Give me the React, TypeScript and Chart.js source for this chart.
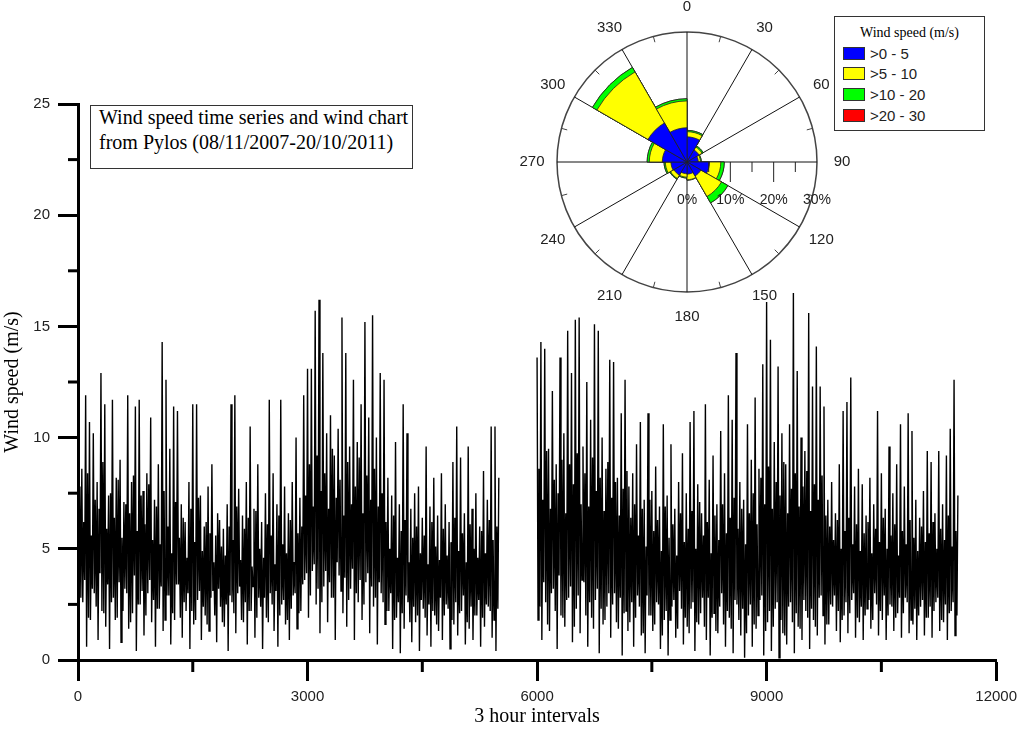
import React, { useEffect, useRef } from "react";
import { Chart, registerables } from "chart.js";

Chart.register(...registerables);

// ---------------- Time series (3 hour intervals) ----------------
const SAMPLE_STEP = 12.5; // intervals between successive readings
const SEG1_START = 0;
const GAP_AT = 5750;
const SEG2_START = 6000;

const seg1Peaks = [
  10.2, 8.6, 11.9, 10.7, 10.2, 8.0, 12.9, 11.5, 7.4, 11.7,
  8.2, 9.0, 7.1, 11.9, 8.0, 11.4, 11.7, 7.6, 8.4, 10.9,
  7.2, 8.8, 14.3, 12.6, 9.5, 11.4, 11.2, 7.0, 6.2, 8.0,
  11.5, 11.5, 7.4, 6.0, 7.8, 8.8, 5.6, 6.3, 5.9, 7.0,
  11.5, 11.9, 7.7, 6.5, 8.0, 10.5, 6.8, 8.8, 6.2, 7.5,
  11.7, 8.4, 7.0, 11.7, 7.8, 6.6, 8.0, 10.0, 7.3, 11.9,
  13.1, 13.1, 15.7, 16.2, 13.8, 10.2, 11.0, 9.2, 10.4, 15.4,
  13.8, 9.6, 12.6, 9.8, 11.5, 15.2, 10.9, 15.5, 10.0, 12.9,
  12.6, 8.2, 7.4, 9.8, 7.0, 11.5, 10.2, 6.8, 7.5, 7.8,
  6.4, 9.6, 6.9, 8.2, 6.5, 8.4, 7.0, 6.2, 8.9, 10.5,
  9.1, 6.6, 9.6, 6.8, 7.5, 6.0, 8.5, 7.2, 10.5, 10.5,
  8.2,
];
const seg1Troughs = [
  1.2, 2.6, 0.6, 1.8, 3.0, 0.9, 2.2, 1.5, 0.5, 2.8,
  1.9, 0.8, 3.2, 1.4, 2.1, 0.4, 2.5, 1.1, 3.0, 1.7,
  0.6, 2.3, 1.3, 2.9, 0.7, 1.8, 3.4, 1.0, 2.2, 0.5,
  1.6, 2.7, 0.9, 2.0, 1.3, 3.1, 0.8, 2.4, 1.5, 0.4,
  2.6, 1.2, 3.3, 1.7, 0.7, 2.2, 1.0, 2.8, 0.5, 1.9,
  3.0, 1.3, 0.6, 2.5, 1.6, 0.9, 2.9, 1.4, 2.2, 3.6,
  1.9, 4.0, 2.5, 1.2, 3.3, 1.7, 2.8, 0.9, 3.8, 2.1,
  1.5, 3.2, 0.9, 2.6, 1.8, 3.5, 1.2, 2.4, 0.7, 3.0,
  1.6, 2.2, 0.5, 1.9, 0.3, 1.4, 2.6, 0.8, 1.7, 0.4,
  2.3, 1.1, 0.6, 2.0, 1.3, 0.9, 2.5, 0.5, 1.6, 1.1,
  2.2, 0.7, 1.4, 0.9, 2.0, 0.6, 1.5, 2.4, 1.0, 0.4,
];
const seg1InnerPeaks = [
  7.8, 6.2, 8.4, 5.6, 7.2, 6.8, 8.9, 5.9, 7.5, 6.4,
  8.1, 5.5, 7.0, 6.6, 8.3, 5.8, 7.4, 6.1, 7.9, 5.4,
  6.9, 5.2, 7.6, 6.0, 4.8, 7.1, 5.5, 6.4, 4.6, 6.8,
  5.3, 7.3, 4.9, 6.2, 5.7, 4.4, 6.6, 5.1, 4.7, 6.0,
  5.4, 6.9, 4.5, 5.9, 6.4, 4.2, 6.7, 5.0, 4.6, 6.1,
  5.6, 4.3, 6.5, 5.2, 4.8, 6.3, 4.4, 5.7, 6.0, 7.4,
  8.8, 6.9, 9.2, 7.6, 8.4, 6.8, 9.5, 7.3, 8.1, 6.5,
  8.9, 7.0, 7.8, 9.1, 6.6, 8.3, 7.2, 8.6, 6.9, 7.5,
  6.2, 5.0, 6.5, 4.6, 5.8, 6.3, 4.4, 5.5, 6.0, 4.8,
  5.6, 4.3, 6.2, 5.1, 4.5, 5.9, 4.7, 5.3, 6.4, 4.9,
  5.7, 4.4, 6.1, 5.0, 4.6, 5.8, 4.8, 6.3, 5.4, 6.0,
];
const seg1InnerTroughs = [
  2.8, 3.6, 1.9, 3.2, 2.4, 3.9, 2.1, 3.4, 2.6, 1.8,
  3.5, 2.2, 3.0, 1.7, 3.8, 2.5, 3.1, 2.0, 3.6, 2.7,
  2.3, 3.3, 1.8, 2.9, 2.1, 3.4, 1.9, 2.6, 3.0, 2.2,
  1.8, 3.1, 2.4, 1.6, 2.8, 2.0, 3.2, 1.7, 2.5, 2.9,
  2.1, 3.0, 1.8, 2.6, 2.2, 3.3, 1.9, 2.4, 2.8, 1.7,
  2.5, 3.1, 2.0, 2.7, 1.8, 2.3, 3.0, 2.1, 3.4, 3.9,
  2.9, 4.3, 3.2, 2.6, 4.0, 3.5, 2.8, 4.4, 3.1, 3.7,
  2.7, 4.1, 3.0, 3.6, 2.5, 3.9, 3.3, 2.8, 3.5, 2.6,
  2.2, 3.0, 1.8, 2.6, 2.1, 2.9, 1.7, 2.4, 2.0, 2.7,
  1.9, 2.5, 2.2, 1.6, 2.8, 2.0, 2.3, 1.8, 2.6, 2.1,
  2.9, 1.7, 2.4, 2.0, 2.7, 1.9, 2.5, 2.2, 1.8, 2.3,
];
const seg2Peaks = [
  13.6, 14.3, 14.0, 9.5, 12.1, 8.8, 13.6, 10.2, 14.8, 12.9,
  15.3, 15.4, 9.6, 12.5, 10.8, 15.1, 14.8, 10.0, 8.6, 13.5,
  13.4, 8.2, 11.1, 12.6, 7.8, 8.4, 9.7, 10.7, 7.2, 11.1,
  7.6, 8.7, 6.9, 10.6, 7.4, 9.7, 6.8, 8.0, 9.3, 7.5,
  10.7, 11.2, 7.9, 6.6, 11.5, 8.1, 9.2, 7.0, 10.3, 8.4,
  11.9, 10.8, 13.8, 8.0, 7.2, 10.6, 9.0, 11.8, 8.6, 13.3,
  16.1, 14.4, 9.8, 13.2, 10.2, 8.8, 10.6, 16.5, 13.0, 10.0,
  9.4, 15.6, 12.3, 14.1, 12.3, 11.4, 7.2, 8.0, 6.6, 8.8,
  11.2, 11.6, 12.7, 7.8, 8.6, 7.9, 6.5, 8.2, 7.0, 11.2,
  8.4, 6.8, 9.6, 7.5, 8.8, 10.6, 7.8, 11.1, 10.3, 7.2,
  6.4, 7.6, 9.4, 8.9, 6.6, 9.4, 7.0, 9.2, 10.4, 12.6,
  7.4,
];
const seg2Troughs = [
  1.8, 0.9, 2.6, 1.3, 3.2, 0.5, 2.0, 1.5, 2.8, 0.8,
  2.3, 1.2, 3.5, 0.6, 1.9, 2.7, 0.3, 1.6, 2.4, 1.0,
  3.0, 1.4, 0.2, 2.2, 1.7, 0.6, 2.9, 1.1, 0.3, 2.0,
  1.3, 2.6, 0.5, 1.8, 0.2, 2.4, 1.0, 3.1, 0.7, 1.5,
  2.3, 0.4, 1.6, 2.8, 0.9, 0.2, 2.1, 1.2, 3.0, 0.6,
  1.9, 0.3, 2.5, 1.1, 0.1, 2.0, 0.6, 1.4, 2.7, 0.2,
  1.7, 0.4, 2.3, 0.1, 1.2, 0.7, 2.6, 0.3, 1.5, 0.9,
  2.2, 0.5, 1.8, 1.1, 2.9, 0.7, 1.6, 2.4, 1.3, 0.8,
  2.0, 1.2, 2.7, 1.0, 1.7, 0.9, 2.3, 1.4, 3.0, 1.1,
  1.8, 0.9, 2.5, 1.3, 2.1, 1.0, 2.8, 1.2, 1.6, 0.9,
  2.4, 1.1, 1.9, 1.0, 2.6, 1.3, 1.7, 0.9, 2.2, 1.1,
];
const seg2InnerPeaks = [
  8.6, 7.2, 9.4, 6.8, 8.1, 7.5, 9.0, 6.6, 8.8, 7.9,
  9.3, 7.0, 8.4, 6.9, 9.1, 7.6, 8.2, 6.7, 8.9, 7.3,
  8.0, 6.5, 7.7, 8.5, 6.4, 7.0, 5.6, 6.8, 5.1, 7.2,
  5.8, 6.3, 4.9, 6.9, 5.5, 6.1, 4.7, 6.6, 5.3, 5.9,
  6.7, 5.0, 7.1, 5.6, 6.2, 4.8, 6.5, 5.4, 7.0, 5.7,
  6.4, 7.3, 5.9, 6.8, 5.2, 6.6, 7.5, 6.1, 8.2, 7.0,
  8.7, 6.8, 8.0, 7.4, 8.9, 6.6, 7.7, 8.4, 6.9, 7.8,
  8.5, 6.7, 7.9, 7.2, 8.3, 6.5, 6.0, 5.4, 6.3, 5.0,
  5.8, 6.4, 5.2, 6.1, 4.9, 5.7, 6.2, 4.8, 5.9, 5.3,
  6.4, 5.0, 5.6, 6.1, 4.7, 5.8, 5.2, 6.3, 5.5, 4.9,
  6.0, 5.3, 5.7, 6.2, 5.0, 5.9, 5.4, 6.5, 5.1, 5.8,
];
const seg2InnerTroughs = [
  2.4, 3.5, 1.6, 3.0, 2.2, 3.8, 1.9, 2.7, 3.3, 1.5,
  2.9, 3.6, 2.0, 2.6, 1.4, 3.2, 2.3, 1.8, 3.0, 2.5,
  1.7, 2.8, 2.1, 1.3, 2.6, 1.9, 2.4, 1.2, 2.9, 2.0,
  1.6, 2.5, 1.1, 2.2, 1.8, 2.7, 1.4, 2.3, 1.9, 1.2,
  2.6, 1.7, 2.1, 1.5, 2.8, 1.9, 1.3, 2.4, 1.6, 2.2,
  1.4, 2.7, 1.8, 2.3, 1.2, 2.5, 1.6, 2.0, 2.9, 1.3,
  2.2, 1.5, 2.6, 1.8, 1.1, 2.4, 1.7, 2.1, 1.4, 2.7,
  1.9, 2.3, 1.5, 2.8, 2.0, 1.6, 2.5, 2.9, 2.2, 1.8,
  2.6, 2.1, 3.0, 1.9, 2.4, 2.0, 2.7, 1.8, 2.5, 2.2,
  2.9, 2.0, 2.4, 1.9, 2.8, 2.1, 2.6, 1.8, 2.3, 2.0,
  2.7, 1.9, 2.4, 2.2, 2.8, 1.8, 2.5, 2.1, 2.6, 2.0,
];

const X_MIN = 0;
const X_MAX = 12000;
const X_STEP = 3000;
const Y_MIN = 0;
const Y_MAX = 25;
const Y_STEP = 5;
const xMinorTicks = [1500, 4500, 7500, 10500];
const yMinorTicks = [2.5, 7.5, 12.5, 17.5, 22.5];

// ---------------- Wind rose ----------------
const directions = ["0", "30", "60", "90", "120", "150", "180", "210", "240", "270", "300", "330"];
// percentage of records per 30° sector and speed class
const band0to5 = [5.8, 3.2, 2.6, 5.2, 3.7, 2.8, 2.7, 3.5, 3.7, 5.7, 10.4, 7.9];
const band5to10 = [1.2, 0.8, 0.5, 2.6, 5.5, 1.3, 0.8, 0.9, 1.3, 3.0, 13.6, 6.2];
const band10to20 = [0.3, 0.3, 0.2, 0.8, 1.7, 0.1, 0.2, 0.2, 0.3, 0.5, 1.2, 0.5];
const band20to30 = [0, 0, 0, 0, 0, 0, 0, 0, 0, 0, 0, 0];
const speedBands = [">0 - 5", ">5 - 10", ">10 - 20", ">20 - 30"];
const bandColors = ["#0000ff", "#ffff00", "#00ff00", "#ff0000"];
const roseMax = 30;
const rosePctLabels = [0, 10, 20, 30];
const roseMajorAxisTicks = [10, 20];
const roseMinorAxisTicks = [5, 15, 25];

const SANS = '"Liberation Sans", Arial, sans-serif';
const SERIF = '"Liberation Serif", "Times New Roman", serif';

function buildSegment(start: number, peaks: number[], troughs: number[], innerPeaks: number[], innerTroughs: number[]) {
  const pts: { x: number; y: number | null }[] = [];
  peaks.forEach((p, i) => {
    const base = start + i * 4 * SAMPLE_STEP;
    pts.push({ x: base, y: p });
    if (i < troughs.length) pts.push({ x: base + SAMPLE_STEP, y: troughs[i] });
    if (i < innerPeaks.length) pts.push({ x: base + 2 * SAMPLE_STEP, y: innerPeaks[i] });
    if (i < innerTroughs.length) pts.push({ x: base + 3 * SAMPLE_STEP, y: innerTroughs[i] });
  });
  return pts;
}

function cumulative(bands: number[][]) {
  const out: number[][] = [];
  let run = bands[0].map(() => 0);
  bands.forEach((b) => {
    run = run.map((v, i) => v + b[i]);
    out.push(run.slice());
  });
  return out;
}

const minorTickPlugin = {
  id: "minorTicks",
  afterDraw(chart: any) {
    const { ctx, chartArea } = chart;
    const x = chart.scales.x;
    const y = chart.scales.y;
    ctx.save();
    ctx.strokeStyle = "#000";
    ctx.lineWidth = 3;
    xMinorTicks.forEach((v) => {
      const px = x.getPixelForValue(v);
      ctx.beginPath();
      ctx.moveTo(px, chartArea.bottom);
      ctx.lineTo(px, chartArea.bottom + 12);
      ctx.stroke();
    });
    yMinorTicks.forEach((v) => {
      const py = y.getPixelForValue(v);
      ctx.beginPath();
      ctx.moveTo(chartArea.left, py);
      ctx.lineTo(chartArea.left - 10, py);
      ctx.stroke();
    });
    ctx.restore();
  },
};

const roseDecorPlugin = {
  id: "roseDecor",
  afterDraw(chart: any) {
    const s = chart.scales.r;
    const ctx = chart.ctx;
    const R = s.drawingArea;
    const cx = s.xCenter;
    const cy = s.yCenter;
    ctx.save();
    ctx.strokeStyle = "#444";
    ctx.lineWidth = 1;
    for (let i = 0; i < directions.length; i++) {
      const a = s.getPointPosition(i + 0.5, R);
      const b = s.getPointPosition(i + 0.5, R - 6);
      ctx.beginPath();
      ctx.moveTo(a.x, a.y);
      ctx.lineTo(b.x, b.y);
      ctx.stroke();
    }
    ctx.strokeStyle = "#222";
    roseMajorAxisTicks.forEach((v) => {
      const px = cx + s.getDistanceFromCenterForValue(v);
      ctx.beginPath();
      ctx.moveTo(px, cy);
      ctx.lineTo(px, cy + 20);
      ctx.stroke();
    });
    roseMinorAxisTicks.forEach((v) => {
      const px = cx + s.getDistanceFromCenterForValue(v);
      ctx.beginPath();
      ctx.moveTo(px, cy);
      ctx.lineTo(px, cy + 10);
      ctx.stroke();
    });
    ctx.fillStyle = "#222";
    ctx.textAlign = "center";
    ctx.textBaseline = "middle";
    ctx.font = `14px ${SANS}`;
    rosePctLabels.forEach((v) => {
      const px = cx + s.getDistanceFromCenterForValue(v);
      ctx.fillText(`${v}%`, px, cy + 38);
    });
    ctx.font = `15px ${SANS}`;
    directions.forEach((lab, i) => {
      const p = s.getPointPosition(i, R + 25);
      ctx.fillText(lab, p.x, p.y);
    });
    ctx.restore();
  },
};

export default function App() {
  const mainRef = useRef<HTMLCanvasElement>(null);
  const roseRef = useRef<HTMLCanvasElement>(null);

  useEffect(() => {
    document.body.style.margin = "0";
    const series = [
      ...buildSegment(SEG1_START, seg1Peaks, seg1Troughs, seg1InnerPeaks, seg1InnerTroughs),
      { x: GAP_AT, y: null },
      ...buildSegment(SEG2_START, seg2Peaks, seg2Troughs, seg2InnerPeaks, seg2InnerTroughs),
    ];

    const main = new Chart(mainRef.current as HTMLCanvasElement, {
      type: "line",
      data: {
        datasets: [
          {
            data: series as any,
            borderColor: "#000",
            borderWidth: 1.4,
            pointRadius: 0,
            spanGaps: false,
            tension: 0,
          },
        ],
      },
      options: {
        animation: false,
        responsive: false,
        maintainAspectRatio: false,
        layout: { padding: { top: 104, right: 22, left: 0, bottom: 0 } },
        plugins: { legend: { display: false }, tooltip: { enabled: false } },
        scales: {
          x: {
            type: "linear",
            min: X_MIN,
            max: X_MAX,
            ticks: {
              stepSize: X_STEP,
              font: { family: SANS, size: 15 },
              color: "#222",
              padding: 7,
              maxRotation: 0,
              autoSkip: false,
              callback: (v: any) => String(v),
            },
            grid: { drawOnChartArea: false, tickLength: 21, tickWidth: 3, tickColor: "#000" },
            border: { color: "#000", width: 3 },
            title: {
              display: true,
              text: "3 hour intervals",
              font: { family: SERIF, size: 20 },
              color: "#000",
              padding: { top: 0, bottom: 1 },
            },
            afterFit: (s: any) => {
              s.height = 70;
            },
          },
          y: {
            type: "linear",
            min: Y_MIN,
            max: Y_MAX,
            ticks: {
              stepSize: Y_STEP,
              font: { family: SANS, size: 15 },
              color: "#222",
              padding: 8,
              callback: (v: any) => String(v),
            },
            grid: { drawOnChartArea: false, tickLength: 20, tickWidth: 3, tickColor: "#000" },
            border: { color: "#000", width: 3 },
            title: {
              display: true,
              text: "Wind speed (m/s)",
              font: { family: SERIF, size: 20 },
              color: "#000",
              padding: { top: 1, bottom: 0 },
            },
            afterFit: (s: any) => {
              s.width = 78;
            },
          },
        },
      },
      plugins: [minorTickPlugin],
    });

    const cum = cumulative([band0to5, band5to10, band10to20, band20to30]);
    const rose = new Chart(roseRef.current as HTMLCanvasElement, {
      type: "polarArea",
      data: {
        labels: directions,
        datasets: speedBands.map((lab, k) => ({
          label: lab,
          data: cum[k],
          backgroundColor: bandColors[k],
          borderColor: "#222",
          borderWidth: 0.8,
        })),
      },
      options: {
        animation: false,
        responsive: false,
        maintainAspectRatio: false,
        layout: { padding: 45 },
        plugins: { legend: { display: false }, tooltip: { enabled: false } },
        scales: {
          r: {
            min: 0,
            max: roseMax,
            startAngle: 0,
            z: 1,
            ticks: { display: false, stepSize: 5 },
            grid: {
              circular: true,
              color: (c: any) => (c.tick && c.tick.value === roseMax ? "#444" : "rgba(0,0,0,0)"),
              lineWidth: 1.5,
            },
            angleLines: { display: true, color: "#111", lineWidth: 1 },
            pointLabels: { display: false },
          },
        },
      } as any,
      plugins: [roseDecorPlugin],
    });

    return () => {
      main.destroy();
      rose.destroy();
    };
  }, []);

  return (
    <div style={{ position: "relative", width: 1024, height: 730, overflow: "hidden", background: "#fff" }}>
      <canvas ref={mainRef} width={1024} height={730} style={{ position: "absolute", left: 0, top: 0 }} />
      <canvas ref={roseRef} width={350} height={350} style={{ position: "absolute", left: 512, top: -13 }} />
      <div
        style={{
          position: "absolute",
          left: 90,
          top: 105,
          width: 323,
          height: 64,
          border: "1px solid #333",
          boxSizing: "border-box",
          background: "#fff",
        }}
      />
      <div
        style={{
          position: "absolute",
          left: 99,
          top: 105,
          fontFamily: SERIF,
          fontSize: 20,
          lineHeight: "24.5px",
          color: "#000",
          whiteSpace: "nowrap",
        }}
      >
        <div>Wind speed time series and wind chart</div>
        <div>from Pylos (08/11/2007-20/10/2011)</div>
      </div>
      <div
        style={{
          position: "absolute",
          left: 834,
          top: 16,
          width: 151,
          height: 115,
          border: "1px solid #333",
          boxSizing: "border-box",
          background: "#fff",
        }}
      >
        <div
          style={{
            position: "absolute",
            left: 0,
            right: 0,
            top: 8,
            textAlign: "center",
            fontFamily: SERIF,
            fontSize: 14,
            lineHeight: "16px",
            color: "#000",
          }}
        >
          Wind speed (m/s)
        </div>
        {speedBands.map((lab, k) => (
          <div key={lab} style={{ position: "absolute", left: 8, top: 29.7 + k * 20.7, height: 13, display: "flex", alignItems: "center" }}>
            <div
              style={{
                width: 22,
                height: 13,
                background: bandColors[k],
                border: "1px solid #333",
                boxSizing: "border-box",
              }}
            />
            <div style={{ marginLeft: 5, fontFamily: SANS, fontSize: 15, lineHeight: "13px", color: "#222", whiteSpace: "nowrap" }}>
              {lab}
            </div>
          </div>
        ))}
      </div>
    </div>
  );
}
